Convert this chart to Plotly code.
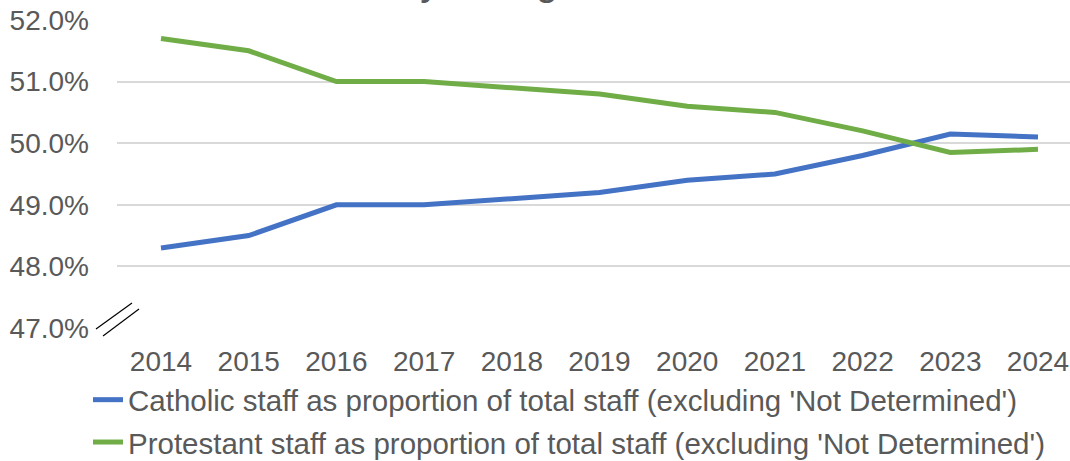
import plotly.graph_objects as go

years = [2014, 2015, 2016, 2017, 2018, 2019, 2020, 2021, 2022, 2023, 2024]
catholic = [48.3, 48.5, 49.0, 49.0, 49.1, 49.2, 49.4, 49.5, 49.8, 50.15, 50.1]
protestant = [51.7, 51.5, 51.0, 51.0, 50.9, 50.8, 50.6, 50.5, 50.2, 49.85, 49.9]
y_ticks = [47, 48, 49, 50, 51, 52]
y_tick_labels = ["47.0%", "48.0%", "49.0%", "50.0%", "51.0%", "52.0%"]
name_cath = "Catholic staff as proportion of total staff (excluding 'Not Determined')"
name_prot = "Protestant staff as proportion of total staff (excluding 'Not Determined')"
title_text = "Community background of the workforce"

W, H = 1070, 461
L, R, T, B = 117, 0, 20, 133
pw = W - L - R
ph = H - T - B
step = 87.7
x0 = years[0] - 44 / step
x1 = x0 + pw / step

FONT = "Liberation Sans, Arial, sans-serif"
GREY = "#595959"

fig = go.Figure()
fig.add_trace(go.Scatter(x=years, y=catholic, mode="lines", name=name_cath,
                         legendgroup="c",
                         line=dict(color="#4472C4", width=5)))
fig.add_trace(go.Scatter(x=years, y=protestant, mode="lines", name=name_prot,
                         legendgroup="p",
                         line=dict(color="#70AD47", width=5)))

def px_x(p):
    return (p - L) / pw

def px_y(p):
    return (H - B - p) / ph

shapes = []
for (ax, ay, bx, by) in [(96, 329, 132, 303), (103, 336, 139, 309)]:
    shapes.append(dict(type="line", xref="paper", yref="paper",
                       x0=px_x(ax), y0=px_y(ay), x1=px_x(bx), y1=px_y(by),
                       line=dict(color="black", width=1.2)))

fig.update_layout(
    width=W, height=H,
    margin=dict(l=L, r=R, t=T, b=B, pad=0, autoexpand=False),
    paper_bgcolor="white", plot_bgcolor="white",
    font=dict(family=FONT, size=28, color=GREY),
    xaxis=dict(range=[x0, x1], tickvals=years, ticktext=[str(y) for y in years],
               showgrid=False, zeroline=False, showline=False, automargin=False,
               ticks="", ticklabelstandoff=14,
               tickfont=dict(size=28, color=GREY)),
    yaxis=dict(range=[47, 52], tickvals=y_ticks, ticktext=y_tick_labels,
               showgrid=True, gridcolor="#D9D9D9", gridwidth=1.5, automargin=False,
               zeroline=False, showline=False, ticks="",
               ticklabelstandoff=27,
               tickfont=dict(size=28, color=GREY)),
    legend=dict(orientation="v", x=px_x(88), xanchor="left",
                y=px_y(374), yanchor="top",
                font=dict(size=29.5, color=GREY),
                tracegroupgap=1, itemwidth=30,
                bgcolor="rgba(0,0,0,0)"),
    shapes=shapes,
    annotations=[dict(text=title_text, xref="paper", yref="paper",
                      x=px_x(597), xanchor="center",
                      y=px_y(5), yanchor="bottom", showarrow=False,
                      font=dict(size=40, color=GREY, family=FONT))],
)

fig.write_html("out.html", config={"displayModeBar": False},
               post_script="document.body.style.margin='0';document.body.style.padding='0';")
